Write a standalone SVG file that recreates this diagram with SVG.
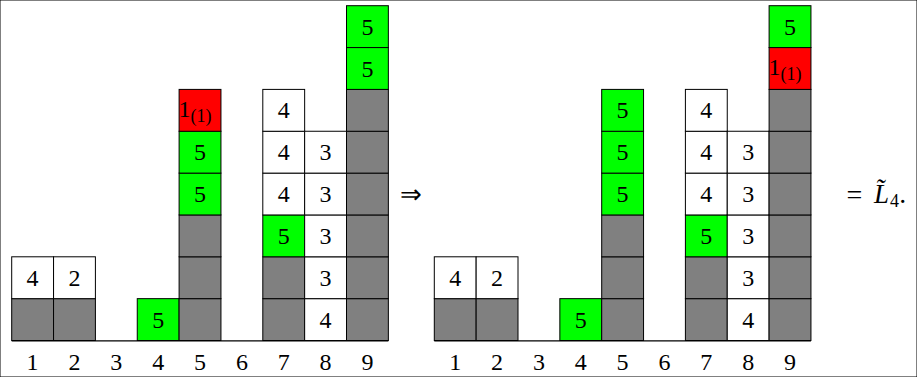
<svg xmlns="http://www.w3.org/2000/svg" width="917" height="377" viewBox="0 0 917 377" font-family="'Liberation Serif','DejaVu Serif',serif">
<style>
rect{stroke:#000;stroke-width:1}
.g{fill:#808080}
.w{fill:#fff}
.v{fill:#00ff00}
.r{fill:#ff0000}
text{font-family:"Liberation Serif","DejaVu Serif",serif;font-size:24px;fill:#000;text-anchor:middle}
.s{text-anchor:start}
.lab{font-size:24px}
</style>
<rect width="917" height="377" fill="#fff" stroke="none"/>
<g id="left-diagram">
<g id="L1"><rect class="g" x="11.7" y="298.65" width="41.85" height="41.85"/><rect class="w" x="11.7" y="256.8" width="41.85" height="41.85"/><text x="32.6" y="285.7">4</text></g>
<g id="L2"><rect class="g" x="53.55" y="298.65" width="41.85" height="41.85"/><rect class="w" x="53.55" y="256.8" width="41.85" height="41.85"/><text x="74.5" y="285.7">2</text></g>
<g id="L4"><rect class="v" x="137.25" y="298.65" width="41.85" height="41.85"/><text x="158.2" y="327.6">5</text></g>
<g id="L5"><rect class="g" x="179.1" y="298.65" width="41.85" height="41.85"/><rect class="g" x="179.1" y="256.8" width="41.85" height="41.85"/><rect class="g" x="179.1" y="214.95" width="41.85" height="41.85"/><rect class="v" x="179.1" y="173.1" width="41.85" height="41.85"/><text x="200" y="202">5</text><rect class="v" x="179.1" y="131.25" width="41.85" height="41.85"/><text x="200" y="160.2">5</text><rect class="r" x="179.1" y="89.4" width="41.85" height="41.85"/><text class="s" x="178.6" y="117">1<tspan font-size="18" dy="5">(1)</tspan></text></g>
<g id="L7"><rect class="g" x="262.8" y="298.65" width="41.85" height="41.85"/><rect class="g" x="262.8" y="256.8" width="41.85" height="41.85"/><rect class="v" x="262.8" y="214.95" width="41.85" height="41.85"/><text x="283.7" y="243.9">5</text><rect class="w" x="262.8" y="173.1" width="41.85" height="41.85"/><text x="283.7" y="202">4</text><rect class="w" x="262.8" y="131.25" width="41.85" height="41.85"/><text x="283.7" y="160.2">4</text><rect class="w" x="262.8" y="89.4" width="41.85" height="41.85"/><text x="283.7" y="118.3">4</text></g>
<g id="L8"><rect class="w" x="304.65" y="298.65" width="41.85" height="41.85"/><text x="325.6" y="327.6">4</text><rect class="w" x="304.65" y="256.8" width="41.85" height="41.85"/><text x="325.6" y="285.7">3</text><rect class="w" x="304.65" y="214.95" width="41.85" height="41.85"/><text x="325.6" y="243.9">3</text><rect class="w" x="304.65" y="173.1" width="41.85" height="41.85"/><text x="325.6" y="202">3</text><rect class="w" x="304.65" y="131.25" width="41.85" height="41.85"/><text x="325.6" y="160.2">3</text></g>
<g id="L9"><rect class="g" x="346.5" y="298.65" width="41.85" height="41.85"/><rect class="g" x="346.5" y="256.8" width="41.85" height="41.85"/><rect class="g" x="346.5" y="214.95" width="41.85" height="41.85"/><rect class="g" x="346.5" y="173.1" width="41.85" height="41.85"/><rect class="g" x="346.5" y="131.25" width="41.85" height="41.85"/><rect class="g" x="346.5" y="89.4" width="41.85" height="41.85"/><rect class="v" x="346.5" y="47.55" width="41.85" height="41.85"/><text x="367.4" y="76.5">5</text><rect class="v" x="346.5" y="5.7" width="41.85" height="41.85"/><text x="367.4" y="34.6">5</text></g>
<g id="L-labels" class="lab"><text x="32.6" y="370">1</text><text x="74.5" y="370">2</text><text x="116.3" y="370">3</text><text x="158.2" y="370">4</text><text x="200" y="370">5</text><text x="241.9" y="370">6</text><text x="283.7" y="370">7</text><text x="325.6" y="370">8</text><text x="367.4" y="370">9</text></g>
</g>
<g id="right-diagram">
<g id="R1"><rect class="g" x="434.3" y="298.65" width="41.85" height="41.85"/><rect class="w" x="434.3" y="256.8" width="41.85" height="41.85"/><text x="455.2" y="285.7">4</text></g>
<g id="R2"><rect class="g" x="476.15" y="298.65" width="41.85" height="41.85"/><rect class="w" x="476.15" y="256.8" width="41.85" height="41.85"/><text x="497.1" y="285.7">2</text></g>
<g id="R4"><rect class="v" x="559.85" y="298.65" width="41.85" height="41.85"/><text x="580.8" y="327.6">5</text></g>
<g id="R5"><rect class="g" x="601.7" y="298.65" width="41.85" height="41.85"/><rect class="g" x="601.7" y="256.8" width="41.85" height="41.85"/><rect class="g" x="601.7" y="214.95" width="41.85" height="41.85"/><rect class="v" x="601.7" y="173.1" width="41.85" height="41.85"/><text x="622.6" y="202">5</text><rect class="v" x="601.7" y="131.25" width="41.85" height="41.85"/><text x="622.6" y="160.2">5</text><rect class="v" x="601.7" y="89.4" width="41.85" height="41.85"/><text x="622.6" y="118.3">5</text></g>
<g id="R7"><rect class="g" x="685.4" y="298.65" width="41.85" height="41.85"/><rect class="g" x="685.4" y="256.8" width="41.85" height="41.85"/><rect class="v" x="685.4" y="214.95" width="41.85" height="41.85"/><text x="706.3" y="243.9">5</text><rect class="w" x="685.4" y="173.1" width="41.85" height="41.85"/><text x="706.3" y="202">4</text><rect class="w" x="685.4" y="131.25" width="41.85" height="41.85"/><text x="706.3" y="160.2">4</text><rect class="w" x="685.4" y="89.4" width="41.85" height="41.85"/><text x="706.3" y="118.3">4</text></g>
<g id="R8"><rect class="w" x="727.25" y="298.65" width="41.85" height="41.85"/><text x="748.2" y="327.6">4</text><rect class="w" x="727.25" y="256.8" width="41.85" height="41.85"/><text x="748.2" y="285.7">3</text><rect class="w" x="727.25" y="214.95" width="41.85" height="41.85"/><text x="748.2" y="243.9">3</text><rect class="w" x="727.25" y="173.1" width="41.85" height="41.85"/><text x="748.2" y="202">3</text><rect class="w" x="727.25" y="131.25" width="41.85" height="41.85"/><text x="748.2" y="160.2">3</text></g>
<g id="R9"><rect class="g" x="769.1" y="298.65" width="41.85" height="41.85"/><rect class="g" x="769.1" y="256.8" width="41.85" height="41.85"/><rect class="g" x="769.1" y="214.95" width="41.85" height="41.85"/><rect class="g" x="769.1" y="173.1" width="41.85" height="41.85"/><rect class="g" x="769.1" y="131.25" width="41.85" height="41.85"/><rect class="g" x="769.1" y="89.4" width="41.85" height="41.85"/><rect class="r" x="769.1" y="47.55" width="41.85" height="41.85"/><text class="s" x="768.6" y="75.2">1<tspan font-size="18" dy="5">(1)</tspan></text><rect class="v" x="769.1" y="5.7" width="41.85" height="41.85"/><text x="790" y="34.6">5</text></g>
<g id="R-labels" class="lab"><text x="455.2" y="370">1</text><text x="497.1" y="370">2</text><text x="538.9" y="370">3</text><text x="580.8" y="370">4</text><text x="622.6" y="370">5</text><text x="664.5" y="370">6</text><text x="706.3" y="370">7</text><text x="748.2" y="370">8</text><text x="790" y="370">9</text></g>
</g>
<g id="connectors" stroke="#000" stroke-width="1.3">
<line x1="11.7" y1="340.8" x2="388.35" y2="340.8"/>
<line x1="434.3" y1="340.8" x2="810.95" y2="340.8"/>
</g>
<g id="implies"><text x="411" y="203" style="font-family:'DejaVu Sans',sans-serif;font-size:26px;font-weight:300">⇒</text></g>
<g id="result">
<text class="s" x="846.5" y="204" style="font-size:28px">=</text>
<text class="s" x="874" y="202.7" style="font-size:27px;font-style:italic">L̃<tspan style="font-style:normal;font-size:18px" dy="4" dx="1">4</tspan><tspan dy="-4" dx="1">.</tspan></text>
</g>
</svg>
